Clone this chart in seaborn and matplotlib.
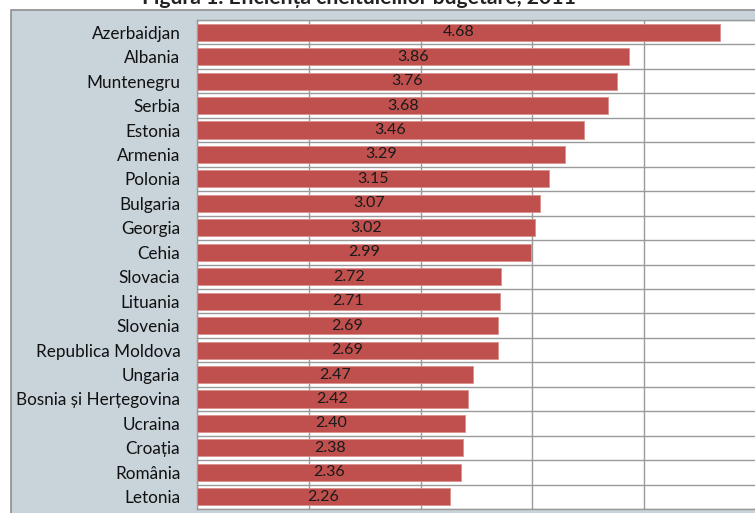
import matplotlib
matplotlib.use("Agg")
import matplotlib.pyplot as plt
import seaborn as sns
import pandas as pd
from matplotlib.patches import Rectangle
from matplotlib.ticker import MultipleLocator

# Data
countries = ["Azerbaidjan", "Albania", "Muntenegru", "Serbia", "Estonia", "Armenia",
             "Polonia", "Bulgaria", "Georgia", "Cehia", "Slovacia", "Lituania",
             "Slovenia", "Republica Moldova", "Ungaria", "Bosnia și Herțegovina",
             "Ucraina", "Croația", "România", "Letonia"]
values = [4.68, 3.86, 3.76, 3.68, 3.46, 3.29, 3.15, 3.07, 3.02, 2.99,
          2.72, 2.71, 2.69, 2.69, 2.47, 2.42, 2.40, 2.38, 2.36, 2.26]
title = "Figura 1. Eficiența cheltuielilor bugetare, 2011"

df = pd.DataFrame({"Tara": countries, "Valoare": values})

# Setup
sns.set_style("white")
plt.rcParams["font.family"] = ["Lato", "DejaVu Sans"]

W, H = 755, 513
fig = plt.figure(figsize=(W / 100, H / 100), dpi=100)
fig.patch.set_facecolor("white")

# chart area box (behind the axes)
box = Rectangle((11 / W, -0.05), 1.1, 1 - 9.5 / H + 0.05, transform=fig.transFigure,
                facecolor="#C8D3DA", edgecolor="#8E8E8E", linewidth=1.2, zorder=-5)
fig.patches.append(box)

ax = fig.add_axes([197 / W, 1 - 509 / H, (756 - 197) / W, (509 - 20) / H])
ax.set_zorder(2)
ax.set_facecolor("white")

sns.barplot(data=df, x="Valoare", y="Tara", orient="h", color="#C0504D",
            saturation=1, width=0.7, edgecolor="#D9908E", linewidth=0.6, ax=ax, zorder=3)

ax.bar_label(ax.containers[0], labels=[f"{v:.2f}" for v in values],
             label_type="center", fontsize=11.5, color="#1a1a1a")

ax.set_xlim(0, 5)
ax.set_ylim(len(countries) - 0.5, -0.5)
ax.xaxis.set_major_locator(MultipleLocator(1))
ax.yaxis.set_minor_locator(MultipleLocator(1, offset=0.5))
ax.grid(axis="x", which="major", color="#9A9A9A", linewidth=1, zorder=1)
ax.grid(axis="y", which="minor", color="#9A9A9A", linewidth=1, zorder=1)
ax.set_axisbelow(True)

ax.set_xlabel("")
ax.set_ylabel("")
ax.set_xticklabels([])
ax.tick_params(axis="x", length=0)
ax.tick_params(axis="y", which="both", length=0, labelsize=12.3, pad=12, labelcolor="#111111")

for side in ["top", "bottom", "left", "right"]:
    ax.spines[side].set_color("#9A9A9A")
    ax.spines[side].set_linewidth(1)

fig.text(359 / W, 1 - 4 / H, title, ha="center", va="baseline",
         fontsize=15.2, fontweight="bold", color="#222222", zorder=3)

fig.savefig("out.png", dpi=100)
plt.close(fig)
